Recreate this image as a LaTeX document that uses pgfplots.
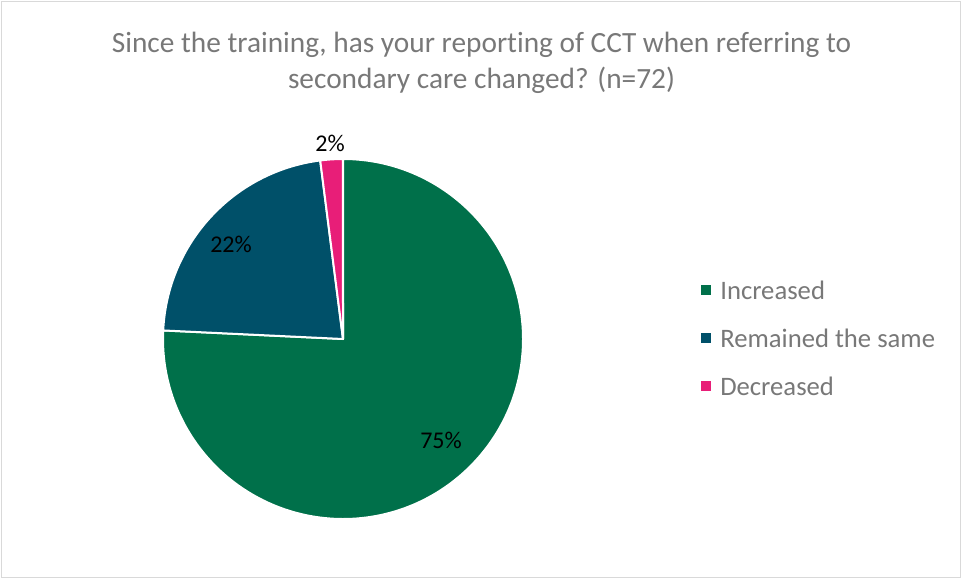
\documentclass[border=0pt]{standalone}
\usepackage{pgfplots}
\pgfplotsset{compat=1.18}
\usepackage{fontspec}
\setmainfont[Ligatures={NoCommon}]{Carlito}
\definecolor{cInc}{HTML}{00704A}
\definecolor{cRem}{HTML}{005069}
\definecolor{cDec}{HTML}{E81E78}
\definecolor{txtgray}{HTML}{787878}
\definecolor{bordergray}{HTML}{D9D9D9}
\begin{document}
\begin{tikzpicture}
% data (percent of respondents)
\def\vInc{75}\def\vRem{22}\def\vDec{2}
\pgfmathsetmacro\tot{\vInc+\vRem+\vDec}
\pgfmathsetmacro\aA{90}
\pgfmathsetmacro\aB{90-360*(\vInc/\tot)}
\pgfmathsetmacro\aC{\aB-360*(\vRem/\tot)}
\pgfmathsetmacro\aD{\aC-360*(\vDec/\tot)}
\begin{axis}[
  x=0.75pt, y=0.75pt,
  xmin=0, xmax=962, ymin=0, ymax=579,
  hide axis, clip=false,
  scale only axis,
]
\addplot[draw=none] coordinates {(0,0) (962,579)};
% outer border
\draw[bordergray, line width=1.2pt] (axis cs:1.5,1.5) rectangle (axis cs:960.5,577.5);
% slices
\fill[cInc, draw=white, line width=1.5pt, line join=round]
  (axis cs:343,240) -- ++(\aA:135pt) arc[start angle=\aA, end angle=\aB, radius=135pt] -- cycle;
\fill[cRem, draw=white, line width=1.5pt, line join=round]
  (axis cs:343,240) -- ++(\aB:135pt) arc[start angle=\aB, end angle=\aC, radius=135pt] -- cycle;
\fill[cDec, draw=white, line width=1.5pt, line join=round]
  (axis cs:343,240) -- ++(\aC:135pt) arc[start angle=\aC, end angle=\aD, radius=135pt] -- cycle;
% data labels
\node[font=\fontsize{18}{20}\selectfont, text=black] at (axis cs:441,139) {75\%};
\node[font=\fontsize{18}{20}\selectfont, text=black] at (axis cs:231,335) {22\%};
\node[font=\fontsize{18}{20}\selectfont, text=black] at (axis cs:330,436) {2\%};
% title
\node[font=\fontsize{22}{26}\selectfont, text=txtgray] at (axis cs:481.5,534) {Since the training, has your reporting of CCT when referring to};
\node[font=\fontsize{22}{26}\selectfont, text=txtgray] at (axis cs:481.5,499) {secondary care changed? (n=72)};
% legend
\fill[cInc] (axis cs:701,284) rectangle (axis cs:711,294);
\fill[cRem] (axis cs:701,236) rectangle (axis cs:711,246);
\fill[cDec] (axis cs:701,188) rectangle (axis cs:711,198);
\node[font=\fontsize{20}{23}\selectfont, text=txtgray, anchor=west, inner sep=0pt] at (axis cs:720,289) {Increased};
\node[font=\fontsize{20}{23}\selectfont, text=txtgray, anchor=west, inner sep=0pt] at (axis cs:720,241) {Remained the same};
\node[font=\fontsize{20}{23}\selectfont, text=txtgray, anchor=west, inner sep=0pt] at (axis cs:720,193) {Decreased};
\end{axis}
\end{tikzpicture}
\end{document}
